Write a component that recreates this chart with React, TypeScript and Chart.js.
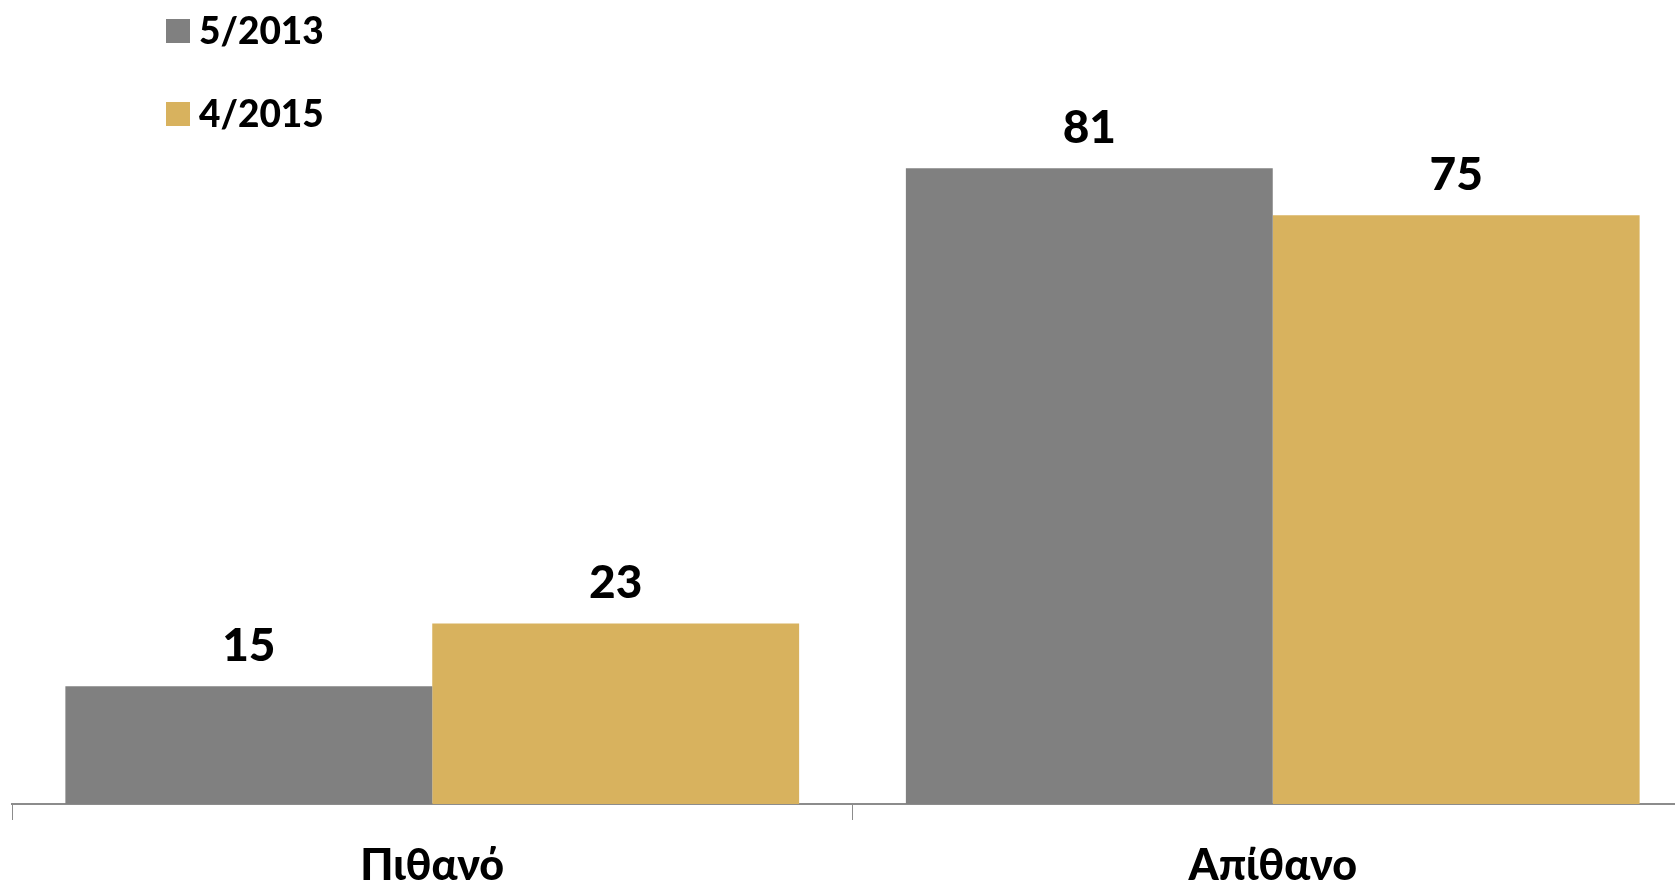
import React, { useEffect, useRef } from "react";
import { Chart, registerables } from "chart.js";

Chart.register(...registerables);

const categories = ["Πιθανό", "Απίθανο"];
const seriesNames = ["5/2013", "4/2015"];
const values2013 = [15, 81];
const values2015 = [23, 75];
const colors = ["#808080", "#D8B25E"];

const FONT = "Lato, 'Open Sans', 'Noto Sans', sans-serif";

const valueLabelPlugin = {
  id: "valueLabels",
  afterDatasetsDraw(chart: any) {
    const ctx = chart.ctx;
    ctx.save();
    ctx.fillStyle = "#000";
    ctx.font = `900 46px ${FONT}`;
    ctx.textAlign = "center";
    ctx.textBaseline = "alphabetic";
    chart.data.datasets.forEach((ds: any, i: number) => {
      const meta = chart.getDatasetMeta(i);
      meta.data.forEach((bar: any, j: number) => {
        ctx.fillText(String(ds.data[j]), bar.x, bar.y - 25);
      });
    });
    ctx.restore();
  },
};

const legendPlugin = {
  id: "customLegend",
  afterDraw(chart: any) {
    const ctx = chart.ctx;
    ctx.save();
    ctx.font = `900 37px ${FONT}`;
    ctx.textBaseline = "middle";
    ctx.textAlign = "left";
    chart.data.datasets.forEach((ds: any, i: number) => {
      const y = 19 + i * 83;
      ctx.fillStyle = ds.backgroundColor;
      ctx.fillRect(166, y, 24, 24);
      ctx.fillStyle = "#000";
      ctx.fillText(ds.label, 199, y + 13);
    });
    ctx.restore();
  },
};

export default function App() {
  const ref = useRef<HTMLCanvasElement>(null);
  useEffect(() => {
    document.body.style.margin = "0";
    const chart = new Chart(ref.current!, {
      type: "bar",
      data: {
        labels: categories,
        datasets: [
          { label: seriesNames[0], data: values2013, backgroundColor: colors[0] },
          { label: seriesNames[1], data: values2015, backgroundColor: colors[1] },
        ],
      },
      options: {
        animation: false,
        responsive: false,
        maintainAspectRatio: false,
        layout: { padding: { top: 19, left: 12, right: 0, bottom: 0 } },
        datasets: { bar: { categoryPercentage: 0.873, barPercentage: 1 } },
        plugins: { legend: { display: false }, tooltip: { enabled: false } },
        scales: {
          y: { display: false, min: 0, max: 100 },
          x: {
            afterFit: (s: any) => {
              s.height = 82;
            },
            border: { display: true, color: "#8c8c8c", width: 2 },
            grid: {
              display: true,
              drawOnChartArea: false,
              drawTicks: true,
              tickLength: 16,
              color: "#8c8c8c",
              lineWidth: 1,
            },
            ticks: {
              color: "#000",
              font: { family: FONT, size: 43, weight: "900" },
              padding: 20,
            },
          },
        },
      },
      plugins: [valueLabelPlugin, legendPlugin],
    });
    return () => chart.destroy();
  }, []);
  return (
    <div style={{ width: 1675, height: 886, overflow: "hidden", position: "relative", background: "#fff" }}>
      <canvas ref={ref} width={1693} height={886} style={{ width: 1693, height: 886, display: "block" }} />
    </div>
  );
}
